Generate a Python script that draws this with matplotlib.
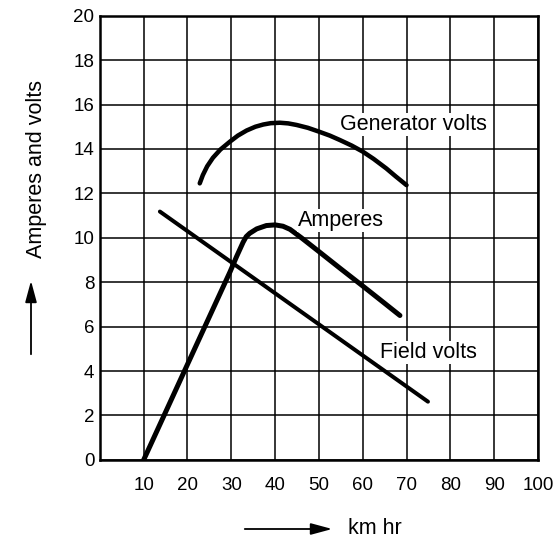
import matplotlib.pyplot as plt

plt.rcParams['font.family'] = ['Liberation Sans', 'DejaVu Sans']

# values (speed in km/hr)
amp_x = [10, 20, 29.7, 31.2, 32.7, 33.4, 34.2, 35.8, 38, 40, 41.8, 43.4, 44.5, 46, 50, 55, 60, 65, 68.5]
amp_y = [0, 4.3, 8.46, 9.15, 9.8, 10.05, 10.2, 10.4, 10.55, 10.58, 10.52, 10.38, 10.22, 10.0,
         9.38, 8.6, 7.83, 7.05, 6.5]

gen_x = [22.8, 23.5, 24.5, 25.8, 27.5, 29.7, 31.5, 33.5, 35.5, 37.3, 39, 41.1, 43, 44.9,
         47.5, 50, 52.5, 54.8, 57.5, 60, 62.5, 65.4, 67.5, 70]
gen_y = [12.45, 12.82, 13.22, 13.6, 13.97, 14.33, 14.6, 14.83, 15.0, 15.1, 15.16, 15.18, 15.15, 15.08,
         14.95, 14.78, 14.6, 14.4, 14.15, 13.88, 13.55, 13.12, 12.77, 12.37]

field_x = [13.7, 74.9]
field_y = [11.18, 2.62]

x_ticks = [10, 20, 30, 40, 50, 60, 70, 80, 90, 100]
y_ticks = [0, 2, 4, 6, 8, 10, 12, 14, 16, 18, 20]

fig = plt.figure(figsize=(5.58, 5.41), dpi=100)
ax = fig.add_axes([0.179, 0.150, 0.785, 0.821])

ax.set_xlim(0, 100)
ax.set_ylim(0, 20)
ax.set_xticks(x_ticks)
ax.set_yticks(y_ticks)
ax.tick_params(length=0, labelsize=13.5, pad=4)
ax.tick_params(axis='x', pad=12)
ax.grid(True, color='black', linewidth=1.1)
ax.set_axisbelow(True)
for s in ax.spines.values():
    s.set_linewidth(1.8)

lw = 3.6
ax.plot(amp_x, amp_y, color='black', lw=lw, solid_capstyle='round', solid_joinstyle='round')
ax.plot(gen_x, gen_y, color='black', lw=lw * 0.9, solid_capstyle='round', solid_joinstyle='round')
ax.plot(field_x, field_y, color='black', lw=lw * 0.8, solid_capstyle='round')

box = dict(facecolor='white', edgecolor='none', pad=1.0)
ax.text(54.8, 15.1, 'Generator volts', fontsize=15.5, va='center', ha='left', bbox=box)
ax.text(45.2, 10.77, 'Amperes', fontsize=15.5, va='center', ha='left', bbox=box)
ax.text(63.9, 4.84, 'Field volts', fontsize=15.5, va='center', ha='left', bbox=box)

# axis labels with arrows, placed in figure fractions
fig.text(37 / 558, 1 - 169 / 541, 'Amperes and volts', rotation=90,
         fontsize=15.5, ha='center', va='center')
fig.add_artist(plt.Annotation('', xy=(31 / 558, 1 - 278 / 541), xytext=(31 / 558, 1 - 357 / 541),
                              xycoords='figure fraction', textcoords='figure fraction',
                              arrowprops=dict(arrowstyle='-|>,head_length=1.3,head_width=0.35',
                                              color='black', lw=1.3)))
fig.text(348 / 558, 1 - 528 / 541, 'km hr', fontsize=15.5, ha='left', va='center')
fig.add_artist(plt.Annotation('', xy=(335 / 558, 1 - 529 / 541), xytext=(242 / 558, 1 - 529 / 541),
                              xycoords='figure fraction', textcoords='figure fraction',
                              arrowprops=dict(arrowstyle='-|>,head_length=1.3,head_width=0.35',
                                              color='black', lw=1.3)))

fig.savefig('out.png', dpi=100)
